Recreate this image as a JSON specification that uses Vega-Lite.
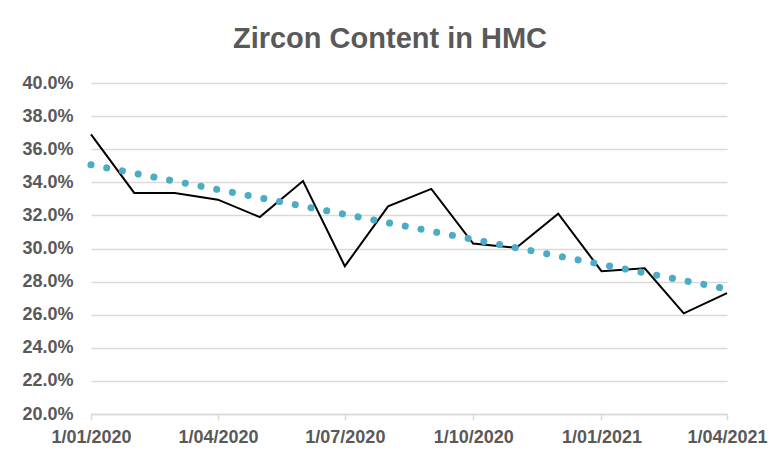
{
  "$schema": "https://vega.github.io/schema/vega-lite/v6.json",
  "width": 636,
  "height": 331,
  "autosize": {"type": "none"},
  "padding": {"left": 91, "top": 83, "right": 44, "bottom": 46},
  "background": "white",
  "title": {
    "text": "Zircon Content in HMC",
    "font": "Liberation Sans",
    "fontSize": 29,
    "fontWeight": "bold",
    "color": "#595959",
    "anchor": "middle",
    "frame": "group",
    "dx": -19,
    "baseline": "alphabetic",
    "offset": -3
  },
  "data": {
    "values": [
      {"date": "2020/01/01", "zircon": 0.369},
      {"date": "2020/02/01", "zircon": 0.3336},
      {"date": "2020/03/01", "zircon": 0.3335},
      {"date": "2020/04/01", "zircon": 0.3295},
      {"date": "2020/05/01", "zircon": 0.319},
      {"date": "2020/06/01", "zircon": 0.3408},
      {"date": "2020/07/01", "zircon": 0.2893},
      {"date": "2020/08/01", "zircon": 0.3255},
      {"date": "2020/09/01", "zircon": 0.336},
      {"date": "2020/10/01", "zircon": 0.303},
      {"date": "2020/11/01", "zircon": 0.3004},
      {"date": "2020/12/01", "zircon": 0.321},
      {"date": "2021/01/01", "zircon": 0.2863},
      {"date": "2021/02/01", "zircon": 0.288},
      {"date": "2021/03/01", "zircon": 0.2608},
      {"date": "2021/04/01", "zircon": 0.273}
    ]
  },
  "encoding": {
    "x": {
      "field": "date",
      "type": "temporal",
      "scale": {"domain": [{"year": 2020, "month": 1, "date": 1}, {"year": 2021, "month": 4, "date": 1}], "nice": false},
      "axis": {
        "title": null,
        "format": "%-d/%m/%Y",
        "values": [
          {"year": 2020, "month": 1, "date": 1},
          {"year": 2020, "month": 4, "date": 1},
          {"year": 2020, "month": 7, "date": 1},
          {"year": 2020, "month": 10, "date": 1},
          {"year": 2021, "month": 1, "date": 1},
          {"year": 2021, "month": 4, "date": 1}
        ],
        "grid": false,
        "domainColor": "#d9d9d9",
        "domainWidth": 1.5,
        "tickColor": "#d9d9d9",
        "tickWidth": 1.5,
        "tickSize": 6,
        "labelPadding": 8,
        "labelFont": "Liberation Sans",
        "labelFontSize": 18,
        "labelFontWeight": "bold",
        "labelColor": "#595959",
        "labelOverlap": false,
        "labelFlush": false,
        "labelBound": false
      }
    },
    "y": {
      "field": "zircon",
      "type": "quantitative",
      "scale": {"domain": [0.2, 0.4], "nice": false, "zero": false},
      "axis": {
        "title": null,
        "format": ".1%",
        "values": [0.2, 0.22, 0.24, 0.26, 0.28, 0.3, 0.32, 0.34, 0.36, 0.38, 0.4],
        "domain": false,
        "ticks": false,
        "gridColor": "#d9d9d9",
        "gridWidth": 1.5,
        "labelPadding": 18,
        "labelFont": "Liberation Sans",
        "labelFontSize": 18,
        "labelFontWeight": "bold",
        "labelColor": "#595959"
      }
    }
  },
  "layer": [
    {
      "mark": {"type": "line", "color": "#000000", "strokeWidth": 2}
    },
    {
      "transform": [{"regression": "zircon", "on": "date"}],
      "mark": {
        "type": "line",
        "color": "#4bacc6",
        "strokeWidth": 7,
        "strokeCap": "round",
        "strokeDash": [0.01, 16]
      }
    }
  ],
  "config": {"view": {"stroke": null}}
}
